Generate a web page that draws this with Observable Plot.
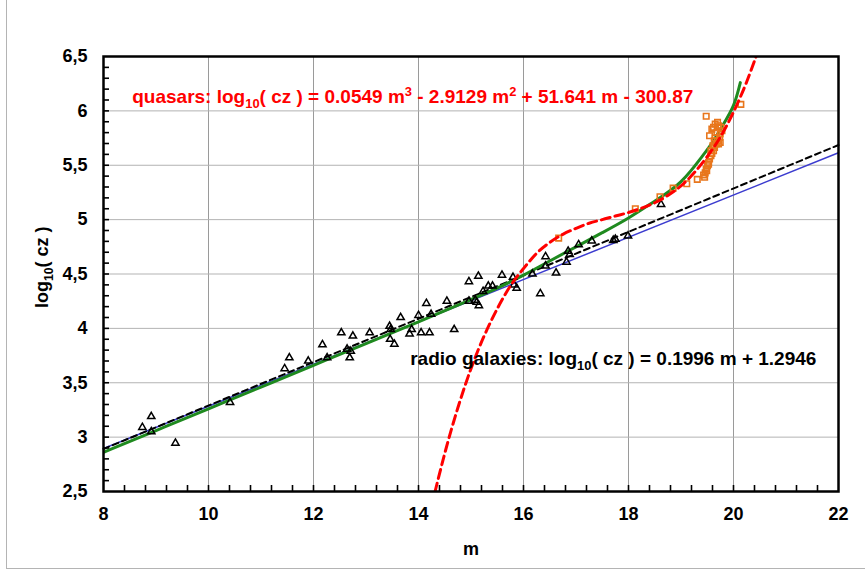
<!DOCTYPE html>
<html><head><meta charset="utf-8">
<script src="https://cdn.jsdelivr.net/npm/d3@7"></script>
<script src="https://cdn.jsdelivr.net/npm/@observablehq/plot@0.6"></script>
<style>
html,body{margin:0;padding:0;background:#fff;overflow:hidden;}
#wrap{position:relative;width:865px;height:571px;}
#border{position:absolute;left:6px;top:-2px;width:900px;height:570px;border-left:1px solid #b4b4b4;border-bottom:1px solid #b4b4b4;pointer-events:none;}
</style></head><body><div id="wrap"><div id="border"></div></div>
<script>
// radio galaxies (triangles)
const radioM = [8.74,8.91,8.91,9.37,10.41,11.45,11.54,11.90,12.17,12.26,12.53,12.64,12.71,12.69,12.75,13.07,13.45,13.47,13.46,13.54,13.66,13.83,13.87,14.05,14.21,14.00,14.15,14.24,14.54,14.68,14.96,15.14,14.96,15.08,15.11,15.15,15.23,15.33,15.41,15.59,15.80,15.82,15.87,16.17,16.32,16.42,16.42,16.62,16.82,16.85,16.88,17.05,17.30,17.71,17.75,17.99,18.62];
const radioLogCz = [3.09,3.19,3.05,2.945,3.32,3.63,3.73,3.70,3.85,3.73,3.96,3.81,3.79,3.73,3.93,3.96,4.02,3.99,3.90,3.855,4.10,3.95,3.99,3.96,3.96,4.12,4.23,4.13,4.25,3.99,4.43,4.48,4.25,4.26,4.24,4.21,4.34,4.39,4.39,4.49,4.47,4.40,4.37,4.50,4.32,4.66,4.575,4.51,4.61,4.71,4.68,4.77,4.805,4.81,4.82,4.85,5.14];
// quasars (squares)
const quasarM = [16.67,18.13,18.60,18.85,19.11,19.31,19.43,19.45,19.46,19.48,19.49,19.505,19.525,19.525,19.544,19.57,19.57,19.588,19.62,19.607,19.639,19.67,19.633,19.715,19.696,19.747,19.652,19.734,19.544,19.747,19.683,19.78,19.588,19.62,19.76,19.715,19.652,19.696,19.48,20.14];
const quasarLogCz = [4.83,5.10,5.21,5.29,5.33,5.37,5.41,5.39,5.43,5.465,5.45,5.495,5.526,5.51,5.557,5.587,5.633,5.609,5.633,5.679,5.664,5.695,5.725,5.695,5.725,5.71,5.75,5.756,5.771,5.787,5.802,5.817,5.832,5.848,5.848,5.863,5.878,5.894,5.95,6.06];
// linear fit (black dashed) and blue line
const fitM = [8, 22];
const fitLogCz = [2.891, 5.686];
const blueM = [8, 22];
const blueLogCz = [2.895, 5.615];
// green curve
const greenM = [8,9,10,11,12,13,14,15,15.5,16,16.5,17,17.5,18,18.5,19,19.4,19.6,19.8,20.0,20.13];
const greenLogCz = [2.86,3.06,3.26,3.46,3.66,3.86,4.06,4.265,4.37,4.49,4.62,4.75,4.88,5.015,5.17,5.35,5.58,5.71,5.87,6.05,6.26];
// quasar cubic (red dashed)
const cubicM = [14.25,14.5,14.75,15.0,15.25,15.5,15.75,16.0,16.25,16.5,16.75,17.0,17.25,17.5,17.75,18.0,18.25,18.5,18.75,19.0,19.25,19.5,19.75,20.0,20.25,20.5];
const cubicLogCz = [2.37,2.85,3.27,3.63,3.93,4.18,4.39,4.55,4.69,4.79,4.865,4.92,4.967,5.00,5.033,5.065,5.106,5.155,5.223,5.31,5.43,5.58,5.76,5.99,6.266,6.595];
// ticks
const xTicks = [8,10,12,14,16,18,20,22];
const xTickLabels = ["8","10","12","14","16","18","20","22"];
const yTicks = [2.5,3,3.5,4,4.5,5,5.5,6,6.5];
const yTickLabels = ["2,5","3","3,5","4","4,5","5","5,5","6","6,5"];
const xMinor = d3.range(1, 35).map(i => 8 + i * 0.4);
const yMinor = d3.range(1, 40).map(i => 2.5 + i * 0.1);
// texts
const quasarEq = [["quasars: log"],["10","sub"],["( cz ) = 0.0549 m"],["3","sup"],[" - 2.9129 m"],["2","sup"],[" + 51.641 m - 300.87"]];
const radioEq = [["radio galaxies: log"],["10","sub"],["( cz ) = 0.1996 m + 1.2946"]];
const yLabel = [["log"],["10","sub"],["( cz )"]];
const xLabel = "m";

const W = 865, H = 571, ML = 103, MR = 27, MT = 56, MB = 80;
const frameW = W - ML - MR, frameH = H - MT - MB;
const rows = (xs, ys) => xs.map((x, i) => ({x, y: ys[i]}));
const plain = parts => parts.map(p => p[0]).join("");

const plot = Plot.plot({
  width: W, height: H,
  marginLeft: ML, marginRight: MR, marginTop: MT, marginBottom: MB,
  x: {domain: [8, 22], label: null},
  y: {domain: [2.5, 6.5], label: null},
  style: {fontFamily: "'Liberation Sans', Arial, sans-serif", fontWeight: "bold", color: "black", background: "white"},
  marks: [
    Plot.gridX(xTicks.slice(1, -1), {stroke: "#9a9a9a", strokeOpacity: 1}),
    Plot.gridY(yTicks.slice(1, -1), {stroke: "#b3b3b3", strokeOpacity: 1}),
    Plot.line(rows(blueM, blueLogCz), {x: "x", y: "y", stroke: "#3c3ccf", strokeWidth: 1.5}),
    Plot.line(rows(fitM, fitLogCz), {x: "x", y: "y", stroke: "black", strokeWidth: 2, strokeDasharray: "6,4"}),
    Plot.line(rows(greenM, greenLogCz), {x: "x", y: "y", stroke: "#1f8a1f", strokeWidth: 3, curve: "natural", clip: true}),
    Plot.dot(rows(radioM, radioLogCz), {x: "x", y: "y", symbol: "triangle", r: 2.7, stroke: "black", fill: "none", strokeWidth: 1.5}),
    Plot.dot(rows(quasarM, quasarLogCz), {x: "x", y: "y", symbol: "square", r: 3.1, stroke: "#e8761c", fill: "none", strokeWidth: 1.6}),
    Plot.line(rows(cubicM, cubicLogCz), {x: "x", y: "y", stroke: "#ff0000", strokeWidth: 3, strokeDasharray: "9,5", curve: "natural", clip: true}),
    // inward tick marks
    Plot.ruleX(xMinor, {x: d => d, insetTop: frameH - 6, stroke: "black", strokeWidth: 1.6}),
    Plot.ruleY(yMinor, {y: d => d, insetRight: frameW - 6, stroke: "black", strokeWidth: 1.6}),
    Plot.axisX(xTicks, {tickSize: 0, tickPadding: 16, fontSize: 18, tickFormat: d => xTickLabels[xTicks.indexOf(d)], label: null}),
    Plot.axisY(yTicks, {tickSize: 0, tickPadding: 16, fontSize: 18, tickFormat: d => yTickLabels[yTicks.indexOf(d)], label: null}),
    Plot.frame({stroke: "black", strokeWidth: 2.5}),
    Plot.text([plain(quasarEq)], {x: 8.547, y: 6.133, text: d => d, textAnchor: "start", fill: "#ff0000", fontSize: 19, fontWeight: "bold"}),
    Plot.text([plain(radioEq)], {x: 13.842, y: 3.721, text: d => d, textAnchor: "start", fill: "black", fontSize: 19, fontWeight: "bold"}),
    Plot.text([plain(yLabel)], {frameAnchor: "left", rotate: -90, dx: -61, dy: 34, text: d => d, fontSize: 18, fontWeight: "bold"}),
    Plot.text([xLabel], {frameAnchor: "bottom", lineAnchor: "middle", dy: 58, text: d => d, fontSize: 18, fontWeight: "bold"})
  ]
});

function rich(svg, parts) {
  const s = plain(parts);
  d3.select(svg).selectAll("text").filter(function() { return this.textContent === s; }).each(function() {
    const t = d3.select(this);
    t.text(null);
    let shift = 0;
    parts.forEach(([str, kind]) => {
      const sp = t.append("tspan").text(str);
      const target = kind === "sub" ? 5 : kind === "sup" ? -7 : 0;
      if (target - shift !== 0) sp.attr("dy", target - shift);
      shift = target;
      if (kind) sp.attr("font-size", "68%");
    });
  });
}
rich(plot, quasarEq);
rich(plot, radioEq);
rich(plot, yLabel);

document.getElementById("wrap").insertBefore(plot, document.getElementById("border"));
</script></body></html>
